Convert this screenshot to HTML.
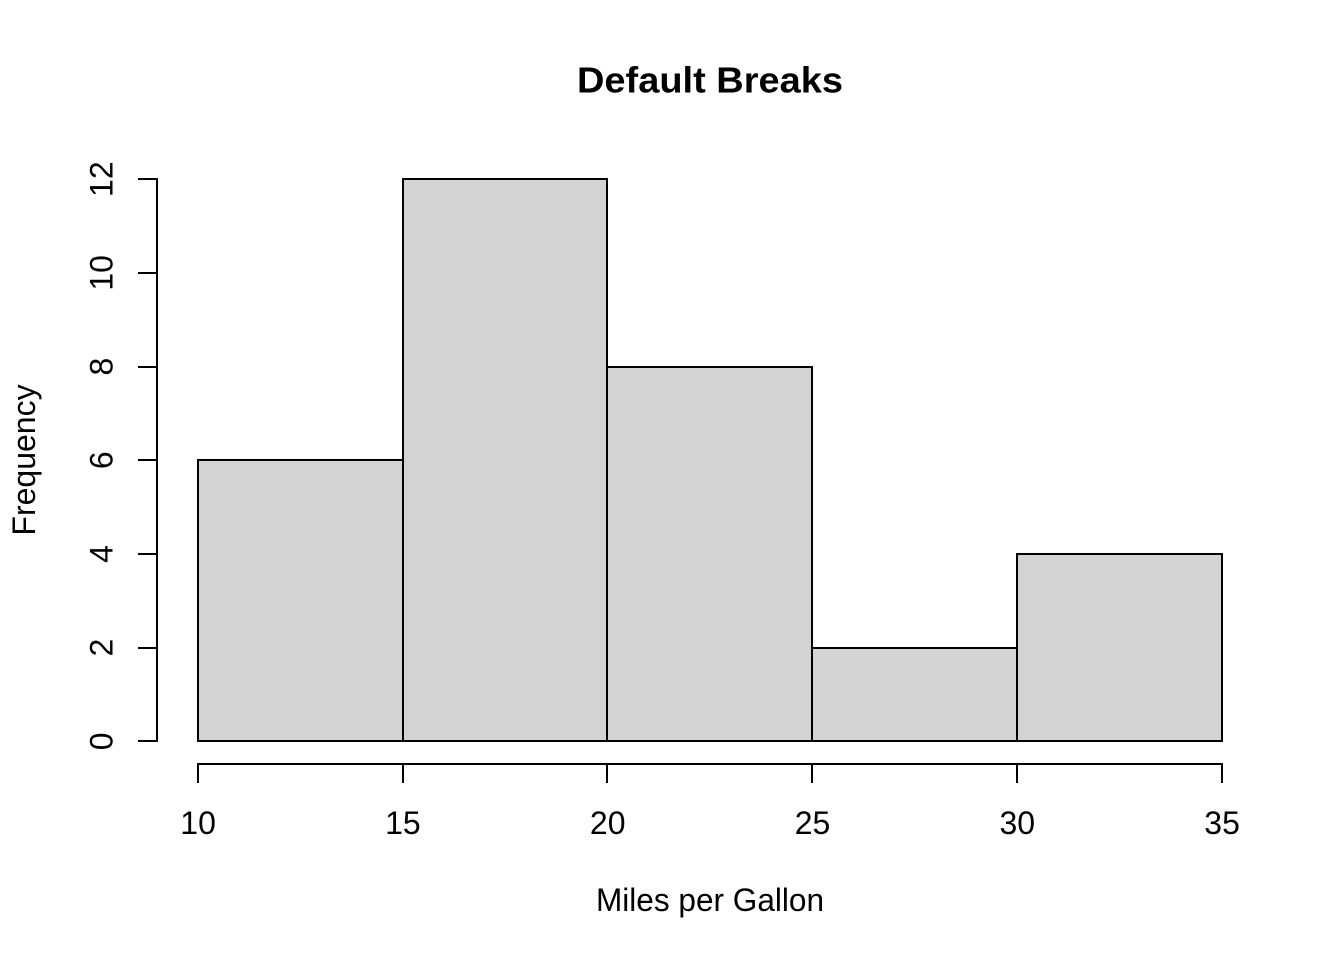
<!DOCTYPE html>
<html>
<head>
<meta charset="utf-8">
<style>
html,body{margin:0;padding:0;background:#fff;}
svg{display:block;}
text{font-family:"Liberation Sans",Arial,sans-serif;fill:#000;}
</style>
</head>
<body>
<svg id="chart" xmlns="http://www.w3.org/2000/svg" width="1344" height="960" viewBox="0 0 1344 960">
<rect x="0" y="0" width="1344" height="960" fill="#fff"/>
<text x="710" y="92.5" text-anchor="middle" font-size="36" font-weight="bold" textLength="266" lengthAdjust="spacingAndGlyphs">Default Breaks</text>
<text x="710" y="911" text-anchor="middle" font-size="32" textLength="228" lengthAdjust="spacingAndGlyphs">Miles per Gallon</text>
<text transform="translate(35,460) rotate(-90)" text-anchor="middle" font-size="32">Frequency</text>
<g id="bars"></g>
<g id="x-axis"></g>
<g id="y-axis"></g>
</svg>
<script>
const breaks = [10, 15, 20, 25, 30, 35];
const counts = [6, 12, 8, 2, 4];
const xTicks = [10, 15, 20, 25, 30, 35];
const yTicks = [0, 2, 4, 6, 8, 10, 12];

const NS = 'http://www.w3.org/2000/svg';
function xRaw(v){ return 197.8 + (v - 10) * 1024 / 25; }
function yRaw(v){ return 741.35 - v * 46.85; }
function xScale(v){ return Math.round(xRaw(v)); }
function yScale(v){ return Math.round(yRaw(v)); }
function make(tag, attrs, parent){
  const el = document.createElementNS(NS, tag);
  for (const k in attrs) el.setAttribute(k, attrs[k]);
  parent.appendChild(el);
  return el;
}
const barsG = document.getElementById('bars');
const xG = document.getElementById('x-axis');
const yG = document.getElementById('y-axis');

counts.forEach(function(c, i){
  const r = make('rect', {x: xScale(breaks[i]), y: yScale(c), width: xScale(breaks[i+1]) - xScale(breaks[i]), height: yScale(0) - yScale(c), fill: '#d3d3d3', stroke: '#000', 'stroke-width': 2}, barsG);
  
  
});

const xLine = make('line', {x1: xScale(xTicks[0]), x2: xScale(xTicks[xTicks.length-1]), y1: 764, y2: 764, stroke: '#000', 'stroke-width': 2, 'stroke-linecap': 'square'}, xG);


xTicks.forEach(function(t){
  const tick = make('line', {x1: xScale(t), x2: xScale(t), y1: 764, y2: 782, stroke: '#000', 'stroke-width': 2, 'stroke-linecap': 'square'}, xG);
  
  
  const lab = make('text', {x: xRaw(t) + 0.3, y: 834, 'text-anchor': 'middle', 'font-size': 32}, xG);
  lab.textContent = t;
  
  
});

const yLine = make('line', {x1: 157, x2: 157, y1: yScale(yTicks[0]), y2: yScale(yTicks[yTicks.length-1]), stroke: '#000', 'stroke-width': 2, 'stroke-linecap': 'square'}, yG);


yTicks.forEach(function(t){
  const tick = make('line', {x1: 139, x2: 157, y1: yScale(t), y2: yScale(t), stroke: '#000', 'stroke-width': 2, 'stroke-linecap': 'square'}, yG);
  
  
  const lab = make('text', {transform: 'translate(112.5,' + yRaw(t) + ') rotate(-90)', 'text-anchor': 'middle', 'font-size': 32}, yG);
  lab.textContent = t;
  
  
});
</script>
</body>
</html>
